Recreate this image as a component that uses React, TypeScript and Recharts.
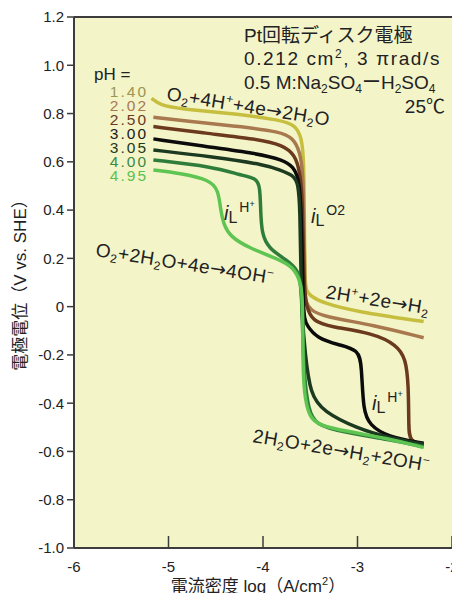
import React from "react";
import { CartesianGrid, Line, LineChart, ReferenceLine, XAxis, YAxis } from "recharts";

const W = 452;
const H = 593;
const INK = "#222";
const AXIS = "#3c3c3c";
const BG = "#f4f4c9";
const FONT = '"Liberation Sans", Arial, "Noto Sans CJK JP", sans-serif';
const ARROW_FONT = '"DejaVu Sans", sans-serif';

// log current density (A/cm2) vs electrode potential (V vs SHE)
const PH140: [number, number][] = [
  [-5.18, 0.863], [-5.09, 0.835], [-4.88, 0.819], [-4.24, 0.797], [-3.82, 0.773], [-3.66, 0.753],
  [-3.59, 0.7], [-3.568, 0.61], [-3.562, 0.35], [-3.558, 0.12], [-3.545, 0.065], [-3.5, 0.045],
  [-3.36, 0.014], [-3.01, -0.021], [-2.3, -0.062],
];
const PH202: [number, number][] = [
  [-5.16, 0.785], [-4.6, 0.76], [-4.24, 0.746], [-3.82, 0.725], [-3.68, 0.698], [-3.61, 0.642],
  [-3.575, 0.559], [-3.565, 0.3], [-3.558, 0.06], [-3.55, 0.02], [-3.5, -0.014], [-3.36, -0.042],
  [-2.83, -0.076], [-2.3, -0.129],
];
const PH250: [number, number][] = [
  [-5.16, 0.746], [-4.6, 0.718], [-4.07, 0.695], [-3.79, 0.67], [-3.66, 0.628], [-3.61, 0.559],
  [-3.58, 0.45], [-3.57, 0.1], [-3.545, 0.0], [-3.47, -0.062], [-3.29, -0.083], [-2.83, -0.11],
  [-2.585, -0.159], [-2.49, -0.214], [-2.46, -0.324], [-2.458, -0.5], [-2.45, -0.559], [-2.3, -0.57],
];
const PH300: [number, number][] = [
  [-5.16, 0.695], [-4.6, 0.663], [-4.07, 0.635], [-3.79, 0.608], [-3.68, 0.58], [-3.61, 0.525],
  [-3.59, 0.331], [-3.575, 0.0], [-3.56, -0.05], [-3.54, -0.076], [-3.43, -0.131], [-3.19, -0.159],
  [-2.99, -0.179], [-2.956, -0.242], [-2.94, -0.435], [-2.87, -0.49], [-2.69, -0.539], [-2.3, -0.566],
];
const PH305: [number, number][] = [
  [-5.16, 0.649], [-4.53, 0.621], [-3.96, 0.587], [-3.82, 0.566], [-3.68, 0.545], [-3.626, 0.511],
  [-3.608, 0.4], [-3.6, 0.15], [-3.585, -0.05], [-3.556, -0.187], [-3.5, -0.366], [-3.36, -0.435],
  [-3.01, -0.504], [-2.656, -0.545], [-2.3, -0.57],
];
const PH400: [number, number][] = [
  [-5.16, 0.608], [-4.53, 0.58], [-4.24, 0.545], [-4.07, 0.532], [-4.032, 0.497], [-4.025, 0.4],
  [-4.014, 0.304], [-3.944, 0.242], [-3.75, 0.193], [-3.626, 0.152], [-3.59, 0.083], [-3.574, -0.255],
  [-3.521, -0.435], [-3.432, -0.49], [-3.185, -0.518], [-2.656, -0.552], [-2.3, -0.58],
];
const PH495: [number, number][] = [
  [-5.16, 0.566], [-4.88, 0.553], [-4.56, 0.525], [-4.473, 0.483], [-4.448, 0.4], [-4.42, 0.345],
  [-4.35, 0.29], [-4.14, 0.242], [-3.855, 0.2], [-3.68, 0.166], [-3.59, 0.097], [-3.578, -0.014],
  [-3.58, -0.324], [-3.52, -0.476], [-3.29, -0.504], [-2.656, -0.548], [-2.3, -0.584],
];

const PH_LABELS = ["1.40", "2.02", "2.50", "3.00", "3.05", "4.00", "4.95"];
const CURVES = [PH140, PH202, PH250, PH300, PH305, PH400, PH495];
const LINE_COLORS = ["#c6be3e", "#a8784e", "#6b3a1e", "#0b0b0b", "#1b3a1f", "#2f7d3a", "#5ec452"];
const LABEL_COLORS = ["#9c9650", "#a87a52", "#6a3a1c", "#1a1a1a", "#1e3a22", "#3a8a44", "#5cc052"];

const X_TICKS = [-6, -5, -4, -3, -2];
const Y_TICKS = [-1, -0.8, -0.6, -0.4, -0.2, 0, 0.2, 0.4, 0.6, 0.8, 1, 1.2];

const toPoints = (c: [number, number][]) => c.map(([x, y]) => ({ x, y }));

const XTick = ({ x, y, payload }: any) => (
  <g>
    {payload.value !== -6 && <line x1={x} x2={x} y1={y} y2={y - 12} stroke={AXIS} strokeWidth={1.5} />}
    <text x={x} y={y + 24} textAnchor="middle" fontSize={15} fill={INK} fontFamily={FONT}>
      {payload.value}
    </text>
  </g>
);

// segments: [text, "n" normal | "b" subscript | "p" superscript]
type Seg = [string, "n" | "b" | "p"];
function chem(segs: Seg[], small = 11) {
  let level = 0;
  return segs.map(([t, k], i) => {
    const target = k === "b" ? 4 : k === "p" ? -7 : 0;
    const dy = target - level;
    level = target;
    return (
      <tspan key={i} dy={dy || undefined} fontSize={k === "n" ? undefined : small}
        fontFamily={t === "→" ? ARROW_FONT : undefined}>
        {t}
      </tspan>
    );
  });
}

// i_L with a raised species
function IL({ x, y, sup, sub }: { x: number; y: number; sup: string; sub?: string }) {
  return (
    <text x={x} y={y} fontSize={20} fill={INK} fontFamily={FONT}>
      <tspan fontStyle="italic">i</tspan>
      <tspan fontSize={16} dy={3}>L</tspan>
      <tspan fontSize={14} dy={-11} dx={2}>{sup}</tspan>
      {sub && <tspan fontSize={9} dy={-5}>{sub}</tspan>}
    </text>
  );
}

function Annotations() {
  return (
    <svg width={W} height={H} style={{ position: "absolute", left: 0, top: 0, pointerEvents: "none" }}
      fontFamily={FONT}>
      <g fill={INK} fontSize={19}>
        <text x={244} y={42}>Pt回転ディスク電極</text>
        <text x={244} y={65} letterSpacing={1.6}>
          {chem([["0.212 cm", "n"], ["2", "p"], [", 3 πrad/s", "n"]], 12)}
        </text>
        <text x={244} y={89}>
          {chem([["0.5 M:Na", "n"], ["2", "b"], ["SO", "n"], ["4", "b"], ["ーH", "n"], ["2", "b"], ["SO", "n"], ["4", "b"]], 12)}
        </text>
        <text x={445} y={113} textAnchor="end">25℃</text>
      </g>
      <text x={94} y={80} fontSize={17} fill={INK}>pH =</text>
      {PH_LABELS.map((l, i) => (
        <text key={l} x={148} y={97 + i * 14} textAnchor="end" fontSize={15.5} letterSpacing={2} fill={LABEL_COLORS[i]}>
          {l}
        </text>
      ))}
      <g fill={INK} fontSize={19} letterSpacing={0.5}>
        <text transform="translate(166,100) rotate(9)">
          {chem([["O", "n"], ["2", "b"], ["+4H", "n"], ["+", "p"], ["+4e", "n"], ["→", "n"], ["2H", "n"], ["2", "b"], ["O", "n"]], 12)}
        </text>
        <text transform="translate(95,256) rotate(9)">
          {chem([["O", "n"], ["2", "b"], ["+2H", "n"], ["2", "b"], ["O+4e", "n"], ["→", "n"], ["4OH", "n"], ["−", "p"]], 12)}
        </text>
        <text transform="translate(325,298) rotate(9)">
          {chem([["2H", "n"], ["+", "p"], ["+2e", "n"], ["→", "n"], ["H", "n"], ["2", "b"]], 12)}
        </text>
        <text transform="translate(252,442) rotate(9.5)">
          {chem([["2H", "n"], ["2", "b"], ["O+2e", "n"], ["→", "n"], ["H", "n"], ["2", "b"], ["+2OH", "n"], ["−", "p"]], 12)}
        </text>
      </g>
      <IL x={224} y={220} sup="H" sub="+" />
      <IL x={311} y={223} sup="O2" />
      <IL x={372} y={410} sup="H" sub="+" />
      <text transform="translate(26,281) rotate(-90)" textAnchor="middle" fontSize={17} fill={INK}>
        電極電位（V vs. SHE）
      </text>
      <text x={258} y={592} textAnchor="middle" fontSize={17} fill={INK}>
        {chem([["電流密度 log（A/cm", "n"], ["2", "p"], ["）", "n"]])}
      </text>
    </svg>
  );
}

export default function App() {
  return (
    <div style={{ position: "absolute", left: 0, top: 0, width: W, height: H, overflow: "hidden", background: "#fff" }}>
      <LineChart width={W} height={H} margin={{ top: 17, right: 0, bottom: 0, left: 0 }}>
        <CartesianGrid fill={BG} horizontal={false} vertical={false} />
        <XAxis type="number" dataKey="x" domain={[-6, -2]} ticks={X_TICKS} interval={0} height={45}
          axisLine={{ stroke: AXIS, strokeWidth: 2 }} tickLine={false} tickSize={0} tickMargin={0}
          tick={<XTick />} allowDataOverflow />
        <YAxis type="number" dataKey="y" domain={[-1, 1.2]} ticks={Y_TICKS} interval={0} width={74}
          axisLine={{ stroke: AXIS, strokeWidth: 2 }} tickLine={{ stroke: AXIS, strokeWidth: 1.5 }}
          tickSize={7} tickMargin={3} tick={{ fontSize: 15, fill: INK, fontFamily: FONT }}
          tickFormatter={(v: number) => (v === 0 ? "0" : v.toFixed(1))} allowDataOverflow />
        <ReferenceLine y={1.2} stroke={AXIS} strokeWidth={2} />
        {CURVES.map((c, i) => (
          <Line key={PH_LABELS[i]} data={toPoints(c)} dataKey="y" type="basis" stroke={LINE_COLORS[i]}
            strokeWidth={3.5} dot={false} isAnimationActive={false} />
        ))}
      </LineChart>
      <Annotations />
    </div>
  );
}
